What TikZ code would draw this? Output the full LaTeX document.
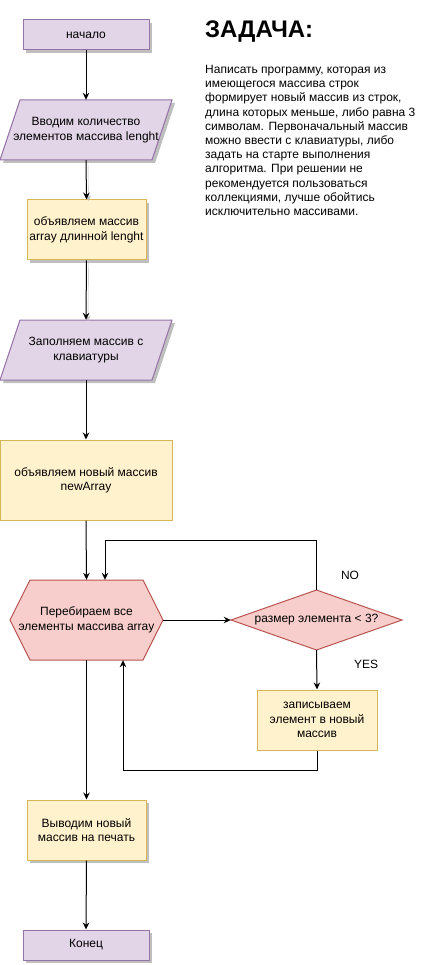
\documentclass[tikz,border=0pt]{standalone}
\usepackage{fontspec}
\setmainfont{Liberation Sans}
\usetikzlibrary{arrows.meta,shadows}
\definecolor{pfill}{HTML}{E1D5E7}
\definecolor{pdraw}{HTML}{9673A6}
\definecolor{yfill}{HTML}{FFF2CC}
\definecolor{ydraw}{HTML}{D6B656}
\definecolor{rfill}{HTML}{F8CECC}
\definecolor{rdraw}{HTML}{B85450}
\begin{document}
\begin{tikzpicture}[x=1pt,y=-1pt,
  txt/.style={font=\fontsize{12}{14.4}\selectfont, align=center, inner sep=0pt},
  shad/.style={drop shadow={shadow xshift=3pt,shadow yshift=-3pt,opacity=0.25,fill=black}},
  pbox/.style={txt, draw=pdraw, fill=pfill, line width=1pt},
  ybox/.style={txt, draw=ydraw, fill=yfill, line width=1pt},
  pshape/.style={draw=pdraw, fill=pfill, line width=1pt},
  rshape/.style={draw=rdraw, fill=rfill, line width=1pt},
  ghost/.style={txt, draw=none, fill=none},
  arr/.style={-{Stealth[length=7pt,width=6.5pt]}, line width=1pt},
  esh/.style={preaction={draw=black!25, transform canvas={shift={(2pt,-2pt)}}}},
  lbl/.style={font=\fontsize{12}{14.4}\selectfont, inner sep=0pt}]
\useasboundingbox (0,0) rectangle (432,965);
% shapes
\path[pshape,shad] (20,100) -- (172,100) -- (152,160) -- (0,160) -- cycle;
\path[pshape,shad] (20,320) -- (172,320) -- (152,380) -- (0,380) -- cycle;
\path[rshape] (10,620) -- (30,580) -- (143,580) -- (163,620) -- (143,660) -- (30,660) -- cycle;
\path[rshape] (231,620) -- (316.5,590) -- (402,620) -- (316.5,650) -- cycle;
% nodes
\node[pbox,shad,minimum width=126pt,minimum height=30pt] (start) at (86,35) {начало};
\node[ghost,minimum width=172pt,minimum height=60pt] (p1) at (86,130) {Вводим количество\\элементов массива lenght};
\node[ybox,shad,minimum width=119pt,minimum height=60pt] (b2) at (86.5,230) {объявляем массив\\array длинной lenght};
\node[ghost,minimum width=172pt,minimum height=60pt] (p2) at (86,350) {Заполняем массив с\\клавиатуры};
\node[ybox,minimum width=172pt,minimum height=80pt] (b3) at (86,480) {объявляем новый массив\\newArray};
\node[ghost,minimum width=153pt,minimum height=80pt] (hex) at (86.5,620) {Перебираем все\\элементы массива array};
\node[ghost,minimum width=171pt,minimum height=60pt] (dia) at (316.5,620) {размер элемента < 3?};
\node[ybox,minimum width=120pt,minimum height=60pt] (b4) at (317,720) {записываем\\элемент в новый\\массив};
\node[ybox,shad,minimum width=119pt,minimum height=60pt] (b5) at (86.5,830) {Выводим новый\\массив на печать};
\node[pbox,shad,minimum width=126pt,minimum height=30pt] (end) at (86,945) {Конец};
% texts
\node[anchor=base west,inner sep=0pt,font=\fontsize{24}{28}\selectfont\bfseries] (title) at (205,38) {ЗАДАЧА:};
\node[anchor=north west,inner sep=0pt,align=left,font=\fontsize{12}{14.2}\selectfont] (task) at (205,65) {Написать программу, которая из\\имеющегося массива строк\\формирует новый массив из строк,\\длина которых меньше, либо равна 3\\символам. Первоначальный массив\\можно ввести с клавиатуры, либо\\задать на старте выполнения\\алгоритма. При решении не\\рекомендуется пользоваться\\коллекциями, лучше обойтись\\исключительно массивами.};
\node[lbl] (no) at (350,575) {NO};
\node[lbl] (yes) at (366,664) {YES};
% connectors
\coordinate (nocorner) at (105,540);
\coordinate (yescorner) at (123,770);
\draw[arr] (start.south) -- (p1.north);
\draw[arr,esh] (p1.south) -- (b2.north);
\draw[arr,esh] (b2.south) -- (p2.north);
\draw[arr] (p2.south) -- (b3.north);
\draw[arr] (b3.south) -- (hex.north);
\draw[arr] (hex.east) -- (dia.west);
\draw[arr] (dia.north) |- (nocorner) -- (nocorner |- hex.north);
\draw[arr] (dia.south) -- (b4.north);
\draw[arr] (b4.south) |- (yescorner) -- (yescorner |- hex.south);
\draw[arr] (hex.south) -- (b5.north);
\draw[arr] (b5.south) -- (end.north);
\end{tikzpicture}
\end{document}
